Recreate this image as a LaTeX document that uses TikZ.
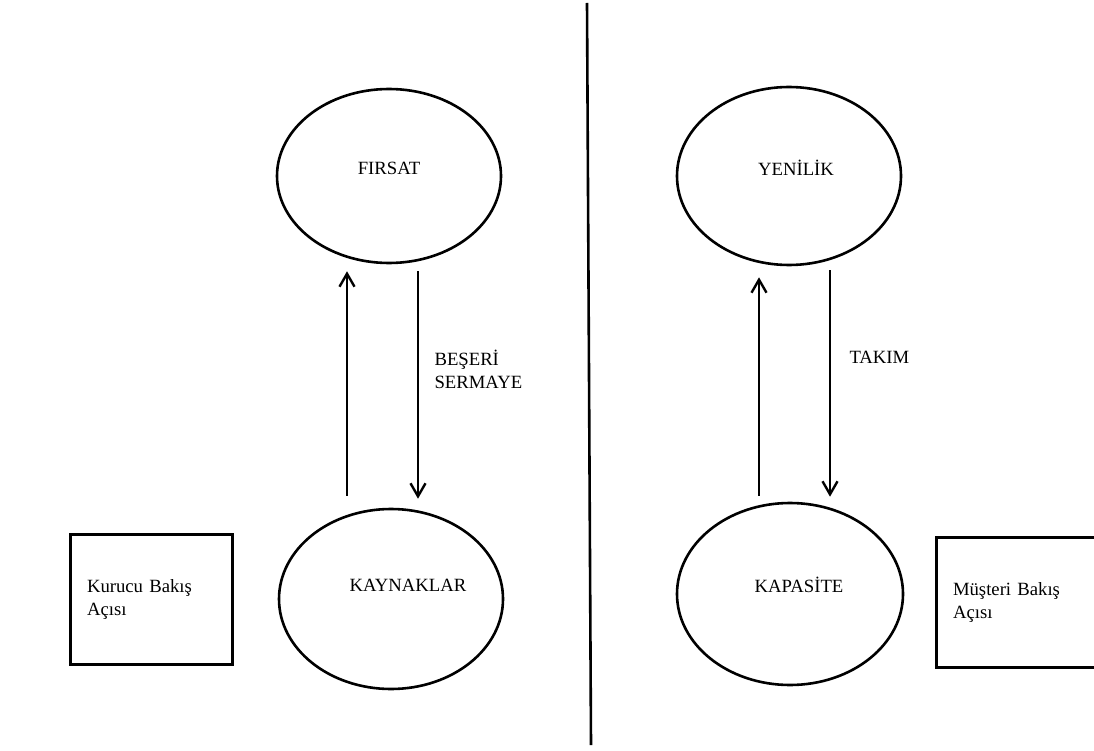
\documentclass[tikz,border=0pt]{standalone}
\usepackage{fontspec}
\setmainfont{Liberation Serif}
\usetikzlibrary{arrows.meta,positioning,shapes.geometric}

\begin{document}
\begin{tikzpicture}[
  x=1pt, y=-1pt,
  oval/.style={draw, ellipse, line width=2.6pt, minimum width=224pt, minimum height=174pt},
  view/.style={draw, line width=3pt, minimum height=130pt, align=left, inner xsep=17pt, font=\fontsize{18.7}{23}\selectfont},
  arr/.style={line width=2.6pt, -{Straight Barb[length=13pt,width=15pt,line width=2.4pt]}},
  every label/.style={font=\fontsize{18.7}{23}\selectfont},
  every node/.append style={font=\fontsize{18.7}{23}\selectfont}
]
\clip (0,0) rectangle (1094,751);
\fill[white] (0,0) rectangle (1094,751);

% left side
\node[oval, label={[yshift=8pt]center:FIRSAT}] (firsat) at (389,176) {};
\node[oval, minimum height=180pt, label={[xshift=17pt,yshift=14pt]center:KAYNAKLAR}] (kaynaklar) at (391,599) {};
\node[view, text width=128pt, minimum width=162pt] (kurucu) at (151,599) {Kurucu Bakış\\Açısı};

\draw[arr] ([xshift=-44pt,yshift=12pt]kaynaklar.north) -- ([xshift=-42pt,yshift=-7pt]firsat.south);
\draw[arr] ([xshift=29pt,yshift=-7pt]firsat.south) -- ([xshift=27pt,yshift=9pt]kaynaklar.north);
\node[anchor=west, align=left] (beseri) at (431,369) {BEŞERİ\\SERMAYE};

% divider
\coordinate (ust) at (587,3);
\coordinate (alt) at (591,745);
\draw[line width=2.6pt] (ust) -- (alt);

% right side
\node[oval, minimum height=178pt, label={[xshift=7pt,yshift=8pt]center:YENİLİK}] (yenilik) at (789,176) {};
\node[oval, minimum width=226pt, minimum height=182pt, label={[xshift=9pt,yshift=9pt]center:KAPASİTE}] (kapasite) at (790,594) {};
\node[view, text width=136pt, minimum width=170pt, inner xsep=15pt] (musteri) at (1021,602) {Müşteri Bakış\\Açısı};

\draw[arr] ([xshift=-31pt,yshift=6pt]kapasite.north) -- ([xshift=-30pt,yshift=-11pt]yenilik.south);
\draw[arr] ([xshift=41pt,yshift=-4pt]yenilik.south) -- ([xshift=40pt,yshift=5pt]kapasite.north);
\node[anchor=west] (takim) at (846,357) {TAKIM};
\end{tikzpicture}
\end{document}
